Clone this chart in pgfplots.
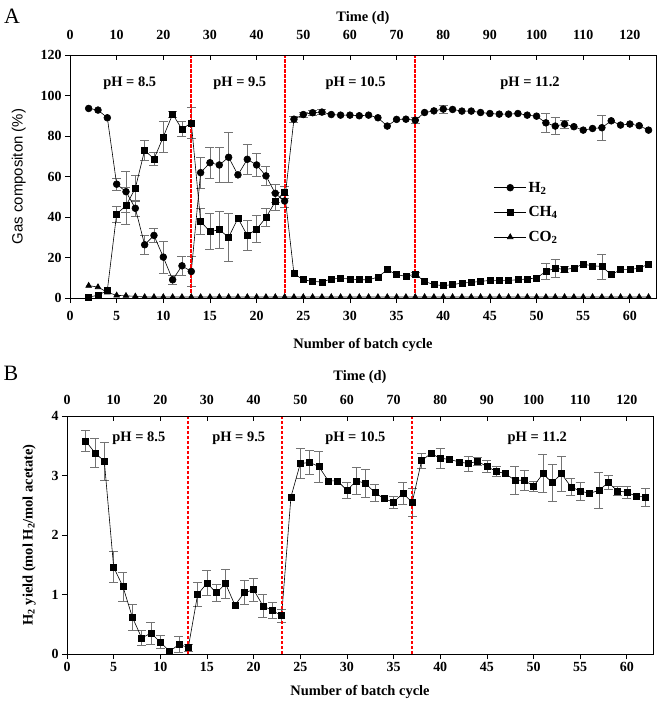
\documentclass[border=0pt]{standalone}
\usepackage{fontspec}
\setmainfont{Liberation Serif}
\newfontfamily\arialfont{Liberation Sans}
\usepackage{pgfplots}
\pgfplotsset{compat=1.18}
\usepackage{pgfplotstable}

\pgfplotstableread{
c v e
2 93.6 0
3 92.8 0
4 89.0 0
5 56.2 3
6 52.5 10
7 44.3 4
8 26.3 4.5
9 30.9 3.5
10 20.2 7.8
11 9.0 2.3
12 15.9 4.5
13 13.1 7.4
14 61.9 7.8
15 66.8 7.8
16 65.7 8.5
17 69.5 12.3
18 60.8 0
19 68.5 7.4
20 65.7 5.6
21 60.3 4.7
22 51.7 4.6
23 47.9 3
24 88.3 1.5
25 90.6 1.2
26 91.5 1.2
27 91.8 1.2
28 90.6 0
29 90.3 0
30 90.3 0
31 90.0 0
32 90.3 0
33 89.0 0
34 84.9 0
35 88.2 0
36 88.3 0
37 87.8 1.5
38 91.6 0
39 92.4 0
40 93.3 2
41 93.1 0
42 92.3 0
43 92.3 0
44 91.6 0
45 91.1 0
46 90.8 0
47 90.8 0
48 91.1 0
49 90.3 0
50 89.8 0
51 86.5 4.5
52 84.9 4.1
53 85.9 2
54 84.6 0
55 82.9 0
56 83.7 0
57 84.1 6.2
58 87.5 0
59 85.4 0
60 85.9 0
61 85.1 0
62 82.9 0
}\hydrogen

\pgfplotstableread{
c v e
2 0.5 0
3 1.3 0
4 3.8 0
5 41.5 4
6 45.6 9
7 54.2 6.6
8 73.0 4.8
9 68.6 3.3
10 79.6 7.8
11 90.8 1.5
12 83.4 3.7
13 86.5 7.6
14 37.8 6.6
15 32.8 9
16 33.7 9.3
17 30.0 12
18 39.4 0
19 30.9 7.5
20 34.0 6.6
21 39.7 4.5
22 47.6 4.5
23 52.1 3
24 12.0 0
25 9.0 0
26 8.2 0
27 7.9 0
28 9.4 0
29 9.7 0
30 9.4 0
31 9.0 0
32 9.0 0
33 10.3 0
34 14.0 0
35 11.5 0
36 10.7 0
37 11.8 1
38 8.2 0
39 6.6 0
40 6.1 0
41 6.6 0
42 7.4 0
43 7.7 0
44 8.2 0
45 8.7 0
46 8.7 0
47 8.7 0
48 9.0 0
49 9.4 0
50 9.9 0
51 13.1 4.1
52 14.8 4.5
53 14.0 1.5
54 14.8 0
55 16.7 0
56 15.9 0
57 15.6 6.2
58 11.5 0
59 14.0 0
60 14.0 0
61 14.8 0
62 16.7 0
}\methane

\pgfplotstableread{
c v
2 6.1
3 5.4
4 2.8
5 1.3
6 1.1
7 0.8
8 0.5
9 0.5
10 0.5
11 0.5
12 0.5
13 0.5
14 0.5
15 0.5
16 0.5
17 0.5
18 0.5
19 0.5
20 0.5
21 0.5
22 0.5
23 0.5
24 0.5
25 0.5
26 0.5
27 0.5
28 0.5
29 0.5
30 0.5
31 0.5
32 0.5
33 0.5
34 0.5
35 0.5
36 0.5
37 0.5
38 0.5
39 0.5
40 0.5
41 0.5
42 0.5
43 0.5
44 0.5
45 0.5
46 0.5
47 0.5
48 0.5
49 0.5
50 0.5
51 0.5
52 0.5
53 0.5
54 0.5
55 0.5
56 0.5
57 0.5
58 0.5
59 0.5
60 0.5
61 0.5
62 0.5
}\carbon

\pgfplotstableread{
c v e
2 3.58 0.18
3 3.38 0.24
4 3.24 0.32
5 1.46 0.26
6 1.13 0.25
7 0.62 0.22
8 0.27 0.13
9 0.35 0.18
10 0.20 0.11
11 0.045 0
12 0.16 0.14
13 0.11 0.06
14 1.00 0.2
15 1.19 0.21
16 1.03 0.14
17 1.18 0.25
18 0.82 0
19 1.03 0.2
20 1.08 0.19
21 0.81 0.2
22 0.73 0.13
23 0.645 0.11
24 2.64 0
25 3.20 0.25
26 3.22 0.2
27 3.15 0.26
28 2.91 0
29 2.91 0
30 2.75 0.13
31 2.91 0.22
32 2.87 0.24
33 2.71 0.14
34 2.61 0
35 2.55 0.1
36 2.70 0.18
37 2.55 0.24
38 3.25 0.13
39 3.37 0
40 3.29 0.17
41 3.27 0
42 3.23 0
43 3.20 0.13
44 3.24 0.07
45 3.15 0.1
46 3.07 0.09
47 3.03 0
48 2.92 0.24
49 2.92 0.17
50 2.82 0.09
51 3.03 0.32
52 2.88 0.31
53 3.03 0.29
54 2.81 0.15
55 2.74 0.15
56 2.70 0
57 2.75 0.31
58 2.88 0.12
59 2.74 0.08
60 2.72 0.1
61 2.65 0
62 2.64 0.15
}\yielddata

\pgfplotsset{
  base/.style={
    scale only axis, width=586bp, xmin=0, xmax=62.8,
    axis line style={line width=0.9pt},
    tick style={line width=0.8pt, black},
    major tick length=5bp,
    xtick={0,5,...,60},
    /pgf/number format/assume math mode=true,
    tick label style={font=\fontsize{14}{14}\selectfont\bfseries},
    label style={font=\fontsize{14.5}{16}\selectfont\bfseries},
    clip=false,
  },
  mainaxis/.style={base, xtick pos=lower, ytick pos=left, tick align=outside,
    xlabel={Number of batch cycle}},
  topaxis/.style={base, hide y axis, xtick pos=upper, tick align=inside,
    xticklabels={}, ymin=0, ymax=1},
  ebars/.style={draw=none, mark=none, forget plot,
    error bars/.cd, y dir=both, y explicit,
    error bar style={black!55, line width=0.7pt},
    error mark options={rotate=90, black!55, line width=0.7pt, mark size=4.5bp}},
  ser/.style={black, line width=0.6pt, mark size=#1, mark options={solid, fill=black}},
  redline/.style={draw=red, color=red, line width=1.8pt, dash pattern=on 3.5bp off 1.5bp, forget plot, mark=none},
}
\tikzset{phlab/.style={font=\fontsize{14.5}{16}\selectfont\bfseries},
  toplab/.style={font=\fontsize{14}{14}\selectfont\bfseries, anchor=center, inner sep=0pt}}

\begin{document}
\begin{tikzpicture}
\useasboundingbox (-70bp,-407bp) rectangle (589bp,298bp);

% ---------------- Panel A ----------------
\begin{axis}[mainaxis, name=A, at={(0,0)}, anchor=south west, height=243bp,
  ymin=0, ymax=120, ytick={0,20,...,120},
  xticklabel style={yshift=-5bp},
  xlabel style={yshift=-11bp},
  ylabel={Gas compositon (\%)},
  ylabel style={font=\arialfont\fontsize{15}{15}\selectfont, yshift=8bp},
  legend style={at={(0.718,0.495)}, anchor=north west, draw=none, fill=none,
    font=\fontsize{15.5}{15.5}\selectfont\bfseries, row sep=9bp},
  legend cell align=left,
  legend image code/.code={\draw[mark repeat=2,mark phase=2,#1] plot coordinates {(0bp,0bp) (16bp,0bp) (32bp,0bp)};},
]
\addplot[ebars] table[x=c, y=v, y error=e, restrict expr to domain={\thisrow{e}}{0.0001:1000}] {\hydrogen};
\addplot[ebars] table[x=c, y=v, y error=e, restrict expr to domain={\thisrow{e}}{0.0001:1000}] {\methane};
\addplot[ser=3.4bp, mark=*] table[x=c, y=v] {\hydrogen};
\addlegendentry{H\textsubscript{2}}
\addplot[ser=3bp, mark=square*] table[x=c, y=v] {\methane};
\addlegendentry{CH\textsubscript{4}}
\addplot[ser=3.3bp, mark=triangle*] table[x=c, y=v] {\carbon};
\addlegendentry{CO\textsubscript{2}}
\addplot[redline] coordinates {(13,0) (13,120)};
\addplot[redline] coordinates {(23,0) (23,120)};
\addplot[redline] coordinates {(37,0) (37,120)};
\node[phlab] at (axis cs:6.4,106) {pH = 8.5};
\node[phlab] at (axis cs:18.2,106) {pH = 9.5};
\node[phlab] at (axis cs:30.6,106) {pH = 10.5};
\node[phlab] at (axis cs:49.3,106) {pH = 11.2};
% top (time) tick labels
\node[toplab, yshift=20bp] at (axis cs:0,120) {0};
\node[toplab, yshift=20bp] at (axis cs:5,120) {10};
\node[toplab, yshift=20bp] at (axis cs:10,120) {20};
\node[toplab, yshift=20bp] at (axis cs:15,120) {30};
\node[toplab, yshift=20bp] at (axis cs:20,120) {40};
\node[toplab, yshift=20bp] at (axis cs:25,120) {50};
\node[toplab, yshift=20bp] at (axis cs:30,120) {60};
\node[toplab, yshift=20bp] at (axis cs:35,120) {70};
\node[toplab, yshift=20bp] at (axis cs:40,120) {80};
\node[toplab, yshift=20bp] at (axis cs:45,120) {90};
\node[toplab, yshift=20bp] at (axis cs:50,120) {100};
\node[toplab, yshift=20bp] at (axis cs:55,120) {110};
\node[toplab, yshift=20bp] at (axis cs:60,120) {120};
\node[phlab, anchor=center, yshift=37bp] at (axis cs:31.4,120) {Time (d)};
\end{axis}
\begin{axis}[topaxis, at={(0,0)}, anchor=south west, height=243bp]
\end{axis}
\node[font=\fontsize{22}{22}\selectfont] at (-58bp,282bp) {A};

% ---------------- Panel B ----------------
\begin{axis}[mainaxis, name=B, at={(-3bp,-356bp)}, anchor=south west, height=238bp,
  ymin=0, ymax=4, ytick={0,1,2,3,4},
  xlabel style={yshift=-7bp},
  ylabel={H\textsubscript{2} yield (mol H\textsubscript{2}/mol acetate)},
  ylabel style={yshift=9bp},
]
\addplot[ebars] table[x=c, y=v, y error=e, restrict expr to domain={\thisrow{e}}{0.0001:1000}] {\yielddata};
\addplot[ser=3bp, mark=square*] table[x=c, y=v] {\yielddata};
\addplot[redline] coordinates {(13,0) (13,4)};
\addplot[redline] coordinates {(23,0) (23,4)};
\addplot[redline] coordinates {(37,0) (37,4)};
\node[phlab] at (axis cs:7.7,3.62) {pH = 8.5};
\node[phlab] at (axis cs:18.4,3.62) {pH = 9.5};
\node[phlab] at (axis cs:30.9,3.62) {pH = 10.5};
\node[phlab] at (axis cs:50.4,3.62) {pH = 11.2};
% top (time) tick labels
\node[toplab, yshift=16bp] at (axis cs:0,4) {0};
\node[toplab, yshift=16bp] at (axis cs:5,4) {10};
\node[toplab, yshift=16bp] at (axis cs:10,4) {20};
\node[toplab, yshift=16bp] at (axis cs:15,4) {30};
\node[toplab, yshift=16bp] at (axis cs:20,4) {40};
\node[toplab, yshift=16bp] at (axis cs:25,4) {50};
\node[toplab, yshift=16bp] at (axis cs:30,4) {60};
\node[toplab, yshift=16bp] at (axis cs:35,4) {70};
\node[toplab, yshift=16bp] at (axis cs:40,4) {80};
\node[toplab, yshift=16bp] at (axis cs:45,4) {90};
\node[toplab, yshift=16bp] at (axis cs:50,4) {100};
\node[toplab, yshift=16bp] at (axis cs:55,4) {110};
\node[toplab, yshift=16bp] at (axis cs:60,4) {120};
\node[phlab, anchor=center, yshift=39bp] at (axis cs:31.4,4) {Time (d)};
\end{axis}
\begin{axis}[topaxis, at={(-3bp,-356bp)}, anchor=south west, height=238bp]
\end{axis}
\node[font=\fontsize{22}{22}\selectfont] at (-59bp,-75bp) {B};
\end{tikzpicture}
\end{document}
